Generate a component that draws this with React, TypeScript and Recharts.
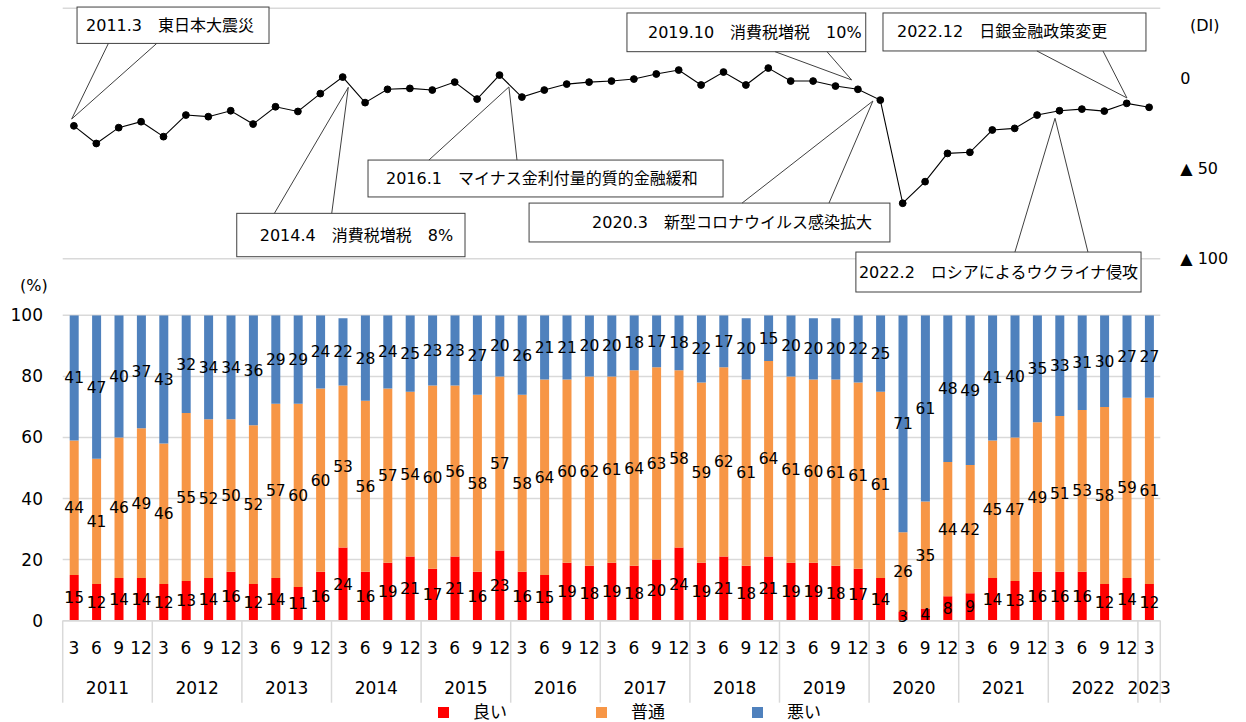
import React from "react";
import {
  BarChart,
  Bar,
  ComposedChart,
  Line,
  XAxis,
  YAxis,
  CartesianGrid,
  LabelList,
  ReferenceArea,
  ReferenceLine,
} from "recharts";

// survey periods (year.month)
const periods = [
  "2011.3", "2011.6", "2011.9", "2011.12",
  "2012.3", "2012.6", "2012.9", "2012.12",
  "2013.3", "2013.6", "2013.9", "2013.12",
  "2014.3", "2014.6", "2014.9", "2014.12",
  "2015.3", "2015.6", "2015.9", "2015.12",
  "2016.3", "2016.6", "2016.9", "2016.12",
  "2017.3", "2017.6", "2017.9", "2017.12",
  "2018.3", "2018.6", "2018.9", "2018.12",
  "2019.3", "2019.6", "2019.9", "2019.12",
  "2020.3", "2020.6", "2020.9", "2020.12",
  "2021.3", "2021.6", "2021.9", "2021.12",
  "2022.3", "2022.6", "2022.9", "2022.12",
  "2023.3",
];

const good = [
  15, 12, 14, 14, 12, 13, 14, 16, 12, 14, 11, 16, 24, 16, 19, 21, 17, 21, 16, 23,
  16, 15, 19, 18, 19, 18, 20, 24, 19, 21, 18, 21, 19, 19, 18, 17, 14, 3, 4, 8,
  9, 14, 13, 16, 16, 16, 12, 14, 12,
];
const normal = [
  44, 41, 46, 49, 46, 55, 52, 50, 52, 57, 60, 60, 53, 56, 57, 54, 60, 56, 58, 57,
  58, 64, 60, 62, 61, 64, 63, 58, 59, 62, 61, 64, 61, 60, 61, 61, 61, 26, 35, 44,
  42, 45, 47, 49, 51, 53, 58, 59, 61,
];
const bad = [
  41, 47, 40, 37, 43, 32, 34, 34, 36, 29, 29, 24, 22, 28, 24, 25, 23, 23, 27, 20,
  26, 21, 21, 20, 20, 18, 17, 18, 22, 17, 20, 15, 20, 20, 20, 22, 25, 71, 61, 48,
  49, 41, 40, 35, 33, 31, 30, 27, 27,
];

// DI line
const diValues = [
  -26.4, -36.2, -27.4, -24.1, -32.4, -20.4, -21.3, -18.0, -25.4, -15.8, -18.4, -8.5,
  0.7, -13.5, -6.1, -5.6, -6.5, -2.1, -11.5, 1.8, -10.4, -6.5, -3.2, -2.1, -1.5, -0.4,
  2.4, 4.6, -3.7, 3.5, -3.7, 5.7, -1.5, -1.5, -4.3, -6.1, -12.1, -69.4, -57.4, -41.7,
  -41.1, -28.7, -27.8, -20.4, -18.0, -17.1, -18.2, -13.9, -16.1,
];

const diTicks = [0, -50, -100];
const pctTicks = [0, 20, 40, 60, 80, 100];

// callouts: box in (period index, DI) units, wedge base x's and tip
const events = [
  { text: "2011.3　東日本大震災", box: [0.14, 8.71, 39.6, 19.4], base: [1.54, 3.7], tip: [-0.1, -22.6], pad: 9 },
  { text: "2014.4　消費税増税　8%", box: [7.27, 17.46, -75.0, -99.1], base: [8.95, 11.51], tip: [12.25, -5.0], pad: 23 },
  { text: "2016.1　マイナス金利付量的質的金融緩和", box: [13.13, 28.98, -45.4, -65.9], base: [15.85, 19.78], tip: [19.42, -4.8], pad: 18 },
  { text: "2019.10　消費税増税　10%", box: [24.69, 35.35, 36.3, 14.8], base: [31.3, 33.62], tip: [34.72, -0.9], pad: 21 },
  { text: "2020.3　新型コロナウイルス感染拡大", box: [20.32, 36.43, -69.3, -90.9], base: [29.83, 33.71], tip: [35.67, -12.6], pad: 63 },
  { text: "2022.12　日銀金融政策変更", box: [36.12, 47.86, 36.3, 15.2], base: [42.99, 45.94], tip: [47.01, -10.9], pad: 14 },
  { text: "2022.2　ロシアによるウクライナ侵攻", box: [34.91, 47.64, -96.5, -118.7], base: [42.01, 45.27], tip: [43.8, -22.2], pad: 3 },
];

const RED = "#ff0000";
const ORANGE = "#f79646";
const BLUE = "#4f81bd";
const GRID = "#d9d9d9";
const EDGE = "#404040";

const N = periods.length;
const PLOT_LEFT = 62.7;
const PLOT_RIGHT = 1160.3;
const BAND = (PLOT_RIGHT - PLOT_LEFT) / N;

const yearOf = periods.map((p) => p.split(".")[0]);

const lineData = periods.map((p, i) => ({ idx: i, period: p, di: diValues[i] }));
const barData = periods.map((p, i) => ({
  slot: i,
  q: p.split(".")[1],
  good: good[i],
  normal: normal[i],
  bad: bad[i],
}));

function YearTick(props: any) {
  const { x, y, payload } = props;
  const i = Number(payload.value);
  const yr = yearOf[i];
  const isStart = i === 0 || yearOf[i - 1] !== yr;
  const isLast = i === N - 1;
  if (!isStart && !isLast) return null;
  let count = 0;
  while (i + count < N && yearOf[i + count] === yr) count++;
  const left = x - BAND / 2;
  return (
    <g>
      {isStart && <line x1={left} x2={left} y1={y - 40} y2={y + 42} stroke={GRID} strokeWidth={1.5} />}
      {isStart && (
        <text x={left + (count * BAND) / 2} y={y + 27} textAnchor="middle" dominantBaseline="central" fontSize={17} fill="#000">
          {yr}
        </text>
      )}
      {isLast && <line x1={x + BAND / 2} x2={x + BAND / 2} y1={y - 40} y2={y + 42} stroke={GRID} strokeWidth={1.5} />}
    </g>
  );
}

function calloutShape(text: string, pad: number) {
  return (p: any) => (
    <g>
      <rect x={p.x} y={p.y} width={p.width} height={p.height} fill="#fff" stroke={EDGE} strokeWidth={1} />
      <text x={p.x + pad} y={p.y + p.height / 2} dominantBaseline="central" fontSize={16} fill="#000">
        {text}
      </text>
    </g>
  );
}

function DiChart() {
  return (
    <ComposedChart
      width={1246}
      height={300}
      data={lineData}
      margin={{ top: 8.3, right: 5.7, bottom: 41.3, left: PLOT_LEFT }}
    >
      <CartesianGrid yAxisId="grid" vertical={false} stroke={GRID} strokeWidth={1.5} />
      <XAxis type="number" dataKey="idx" domain={[-0.5, N - 0.5]} hide />
      <YAxis yAxisId="grid" type="number" domain={[-0.07, 4]} ticks={[0, 1, 2, 3, 4]} hide />
      <YAxis
        yAxisId="di"
        orientation="right"
        type="number"
        domain={[-100.2, 38.9]}
        ticks={diTicks}
        axisLine={false}
        tickLine={false}
        tickSize={0}
        tickMargin={20}
        width={80}
        tick={{ fontSize: 16, fill: "#000", textAnchor: "start" }}
        tickFormatter={(v) => (v === 0 ? "0" : `▲ ${-v}`)}
      />
      <Line
        yAxisId="di"
        dataKey="di"
        stroke="#000"
        strokeWidth={1.1}
        dot={{ r: 3.4, fill: "#000", stroke: "#000", strokeWidth: 1 }}
        activeDot={false}
        isAnimationActive={false}
      />
      {events.map((e, k) => (
        <ReferenceLine
          key={`a${k}`}
          yAxisId="di"
          segment={[{ x: e.base[0], y: e.box[3] > e.tip[1] ? e.box[3] : e.box[2] }, { x: e.tip[0], y: e.tip[1] }]}
          stroke={EDGE}
          strokeWidth={1}
          ifOverflow="visible"
        />
      ))}
      {events.map((e, k) => (
        <ReferenceLine
          key={`b${k}`}
          yAxisId="di"
          segment={[{ x: e.base[1], y: e.box[3] > e.tip[1] ? e.box[3] : e.box[2] }, { x: e.tip[0], y: e.tip[1] }]}
          stroke={EDGE}
          strokeWidth={1}
          ifOverflow="visible"
        />
      ))}
      {events.map((e, k) => (
        <ReferenceArea
          key={`c${k}`}
          yAxisId="di"
          x1={e.box[0]}
          x2={e.box[1]}
          y1={e.box[2]}
          y2={e.box[3]}
          ifOverflow="visible"
          shape={calloutShape(e.text, e.pad)}
        />
      ))}
    </ComposedChart>
  );
}

function ShareChart() {
  return (
    <BarChart
      width={1246}
      height={452}
      data={barData}
      barSize={9}
      margin={{ top: 45.3, right: 1246 - PLOT_RIGHT, bottom: 20, left: 0 }}
    >
      <CartesianGrid vertical={false} stroke={GRID} strokeWidth={1.5} />
      <XAxis
        dataKey="q"
        interval={0}
        axisLine={{ stroke: GRID, strokeWidth: 1.5 }}
        tickLine={false}
        tickSize={0}
        tickMargin={21}
        height={40}
        tick={{ fontSize: 17, fill: "#000" }}
      />
      <XAxis
        xAxisId="year"
        dataKey="slot"
        interval={0}
        axisLine={false}
        tickLine={false}
        tickSize={0}
        tickMargin={0}
        height={41.3}
        tick={<YearTick />}
      />
      <YAxis
        type="number"
        domain={[0, 100]}
        allowDataOverflow
        ticks={pctTicks}
        axisLine={false}
        tickLine={false}
        tickSize={0}
        tickMargin={19.7}
        width={PLOT_LEFT}
        tick={{ fontSize: 17, fill: "#000" }}
      />
      <Bar dataKey="good" stackId="s" fill={RED} isAnimationActive={false}>
        <LabelList dataKey="good" position="center" fill="#000" fontSize={15.5} />
      </Bar>
      <Bar dataKey="normal" stackId="s" fill={ORANGE} isAnimationActive={false}>
        <LabelList dataKey="normal" position="center" fill="#000" fontSize={15.5} />
      </Bar>
      <Bar dataKey="bad" stackId="s" fill={BLUE} isAnimationActive={false}>
        <LabelList dataKey="bad" position="center" fill="#000" fontSize={15.5} />
      </Bar>
    </BarChart>
  );
}

const legendItems = [
  { name: "良い", color: RED, left: 438 },
  { name: "普通", color: ORANGE, left: 596 },
  { name: "悪い", color: BLUE, left: 752 },
];

export default function App() {
  return (
    <div
      style={{
        position: "absolute",
        left: 0,
        top: 0,
        width: 1246,
        height: 722,
        background: "#fff",
        overflow: "hidden",
        fontFamily: '"DejaVu Sans", "Noto Sans CJK JP", sans-serif',
        color: "#000",
      }}
    >
      <div style={{ position: "absolute", left: 0, top: 270 }}>
        <ShareChart />
      </div>
      <div style={{ position: "absolute", left: 0, top: 0 }}>
        <DiChart />
      </div>
      <div style={{ position: "absolute", left: 1190, top: 16, fontSize: 16, lineHeight: "20px" }}>(DI)</div>
      <div style={{ position: "absolute", left: 20, top: 276, fontSize: 16, lineHeight: "20px" }}>(%)</div>
      {legendItems.map((it) => (
        <React.Fragment key={it.name}>
          <div
            style={{ position: "absolute", left: it.left, top: 707, width: 11, height: 11, background: it.color }}
          />
          <div
            style={{
              position: "absolute",
              left: it.left + 35,
              top: 701,
              fontSize: 17,
              lineHeight: "20px",
              fontFamily: '"Noto Sans CJK JP", sans-serif',
            }}
          >
            {it.name}
          </div>
        </React.Fragment>
      ))}
    </div>
  );
}
